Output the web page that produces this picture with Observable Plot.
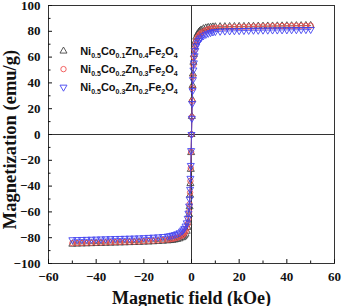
<!DOCTYPE html>
<html>
<head>
<meta charset="utf-8">
<script src="https://cdn.jsdelivr.net/npm/d3@7"></script>
<script src="https://cdn.jsdelivr.net/npm/@observablehq/plot@0.6"></script>
<style>
  html, body { margin: 0; padding: 0; background: #fff; }
  #chart { width: 342px; height: 306px; }
</style>
</head>
<body>
<div id="chart"></div>
<script>
// Magnetic field (kOe)
const field = [
  -50,-48,-46,-44,-42,-40,-38,-36,-34,-32,-30,-28,-26,-24,-22,-20,-18,-16,-14,-12,-10,
  -9,-8,-7,-6,-5,-4,
  -3.5,-3,-2.5,-2,
  -1.6,-1.3,-1.0,-0.8,-0.6,-0.45,-0.3,-0.15,
  0,
  0.15,0.3,0.45,0.6,0.8,1.0,1.3,1.6,
  2,2.5,3,3.5,
  4,5,6,7,8,9,
  10,12,14,16,18,20,22,24,26,28,30,32,34,36,38,40,42,44,46,48,50
];
// Magnetization (emu/g)
const mCo01 = [
  -85.0,-84.9,-84.8,-84.7,-84.6,-84.5,-84.4,-84.3,-84.2,-84.1,-84.0,-83.9,-83.8,-83.7,-83.6,-83.4,-83.3,-83.1,-82.9,-82.7,-82.4,
  -82.2,-82.0,-81.7,-81.3,-80.8,-80.0,
  -79.4,-78.5,-77.2,-75.0,
  -72.0,-68.0,-62.0,-56.0,-47.0,-38.0,-27.0,-14.0,
  0,
  14,27,38,47,56,62,68,72,
  75.5,77.8,79.2,80.2,
  81.0,82.0,82.6,83.0,83.2,83.4,
  83.5,83.6,83.6,83.7,83.7,83.8,83.8,83.9,83.9,84.0,84.0,84.1,84.1,84.2,84.2,84.3,84.3,84.4,84.4,84.5,84.5
];
const mCo02 = [
  -84.3,-84.2,-84.1,-84.0,-83.9,-83.8,-83.7,-83.6,-83.5,-83.4,-83.3,-83.2,-83.1,-83.0,-82.9,-82.7,-82.5,-82.3,-82.1,-81.8,-81.5,
  -81.2,-80.9,-80.5,-80.0,-79.3,-78.3,
  -77.6,-76.5,-75.0,-72.8,
  -69.5,-65.5,-60.0,-54.0,-45.0,-36.0,-26.0,-13.5,
  0,
  13.5,26,36,45,54,60,65.5,69.5,
  72.8,75.0,76.5,77.6,
  78.5,79.8,80.8,81.5,82.0,82.4,
  82.7,82.9,83.0,83.2,83.3,83.4,83.5,83.6,83.7,83.8,83.8,83.9,84.0,84.0,84.1,84.1,84.2,84.2,84.3,84.3,84.4
];
const mCo03 = [
  -81.6,-81.5,-81.4,-81.3,-81.2,-81.1,-81.0,-80.9,-80.8,-80.7,-80.6,-80.5,-80.4,-80.3,-80.2,-80.0,-79.8,-79.6,-79.4,-79.1,-78.8,
  -78.5,-78.1,-77.6,-77.0,-76.2,-75.0,
  -74.0,-72.8,-71.0,-68.5,
  -65.0,-61.0,-55.5,-50.0,-42.5,-34.0,-24.0,-12.5,
  0,
  12.5,24,34,42.5,50,55.5,61,65,
  68.5,71,72.8,74,
  75.0,76.5,77.6,78.4,79.0,79.5,
  79.8,80.0,80.2,80.3,80.4,80.5,80.6,80.7,80.8,80.8,80.9,80.9,81.0,81.0,81.1,81.1,81.2,81.2,81.3,81.3,81.4
];
const xTicks = [-60,-40,-20,0,20,40,60];
const xMinor = [-50,-30,-10,10,30,50];
const yTicks = [-100,-80,-60,-40,-20,0,20,40,60,80,100];
const yMinor = [-90,-70,-50,-30,-10,10,30,50,70,90];

const series = [
  {name: "Co0.1", m: mCo01, color: "#454545", symbol: "triangle", rotate: 0, r: 2.6,
   label: [["Ni",""],["0.5","s"],["Co",""],["0.1","s"],["Zn",""],["0.4","s"],["Fe",""],["2","s"],["O",""],["4","s"]]},
  {name: "Co0.2", m: mCo02, color: "#f05050", symbol: "circle", rotate: 0, r: 2.7,
   label: [["Ni",""],["0.5","s"],["Co",""],["0.2","s"],["Zn",""],["0.3","s"],["Fe",""],["2","s"],["O",""],["4","s"]]},
  {name: "Co0.3", m: mCo03, color: "#4444f0", symbol: "triangle", rotate: 180, r: 2.6,
   label: [["Ni",""],["0.5","s"],["Co",""],["0.3","s"],["Zn",""],["0.2","s"],["Fe",""],["2","s"],["O",""],["4","s"]]}
];

const marks = [
  Plot.ruleX([0], {stroke: "#333", strokeWidth: 1}),
  Plot.ruleY([0], {stroke: "#333", strokeWidth: 1})
];
for (const s of series) {
  const rows = field.map((h, i) => ({h, m: s.m[i]}));
  marks.push(Plot.line(rows, {x: "h", y: "m", stroke: s.color, strokeWidth: 0.8}));
  marks.push(Plot.dot(rows, {x: "h", y: "m", stroke: s.color, fill: "none", symbol: s.symbol,
    rotate: s.rotate, r: s.r, strokeWidth: 0.9}));
}
const blank = () => "";
marks.push(
  Plot.frame({stroke: "#333", strokeWidth: 1}),
  Plot.axisX({ticks: xTicks, tickSize: -4, tickPadding: 12, fontSize: 13, fontWeight: "bold",
    label: "Magnetic field (kOe)", labelAnchor: "center", labelArrow: "none", labelOffset: 40}),
  Plot.axisX({ticks: xMinor, tickSize: -2.5, tickFormat: blank, label: null}),
  Plot.axisY({ticks: yTicks, tickSize: -4, tickPadding: 12, fontSize: 13, fontWeight: "bold",
    label: "Magnetization (emu/g)", labelAnchor: "center", labelArrow: "none", labelOffset: 46}),
  Plot.axisY({ticks: yMinor, tickSize: -2.5, tickFormat: blank, label: null})
);

const plot = Plot.plot({
  width: 342, height: 306,
  marginLeft: 48, marginRight: 8, marginTop: 5, marginBottom: 43,
  x: {domain: [-60, 60]},
  y: {domain: [-100, 100]},
  style: {fontFamily: "'Liberation Serif', 'Times New Roman', serif", color: "#111", background: "#fff", overflow: "visible"},
  marks
});

// axis title sizes
d3.select(plot).selectAll("[aria-label='x-axis label'] text")
  .attr("font-size", 18).attr("font-weight", "bold");
d3.select(plot).selectAll("[aria-label='y-axis label'] text")
  .attr("font-size", 18.5).attr("font-weight", "bold").attr("dx", -5);

// legend
const xs = plot.scale("x"), ys = plot.scale("y");
const svg = d3.select(plot);
const lg = svg.append("g")
  .attr("font-family", "'Liberation Sans', Arial, sans-serif")
  .attr("font-weight", "bold")
  .attr("text-anchor", "start");
series.forEach((s, i) => {
  const yy = ys.apply(64.3 - i * 14);
  const sx = xs.apply(-53.5);
  const sym = s.symbol === "circle" ? d3.symbolCircle : d3.symbolTriangle;
  lg.append("path")
    .attr("d", d3.symbol(sym, s.r * s.r * Math.PI)())
    .attr("transform", `translate(${sx},${yy}) rotate(${s.rotate})`)
    .attr("fill", "none").attr("stroke", s.color).attr("stroke-width", 0.9);
  const t = lg.append("text").attr("x", xs.apply(-46.5)).attr("y", yy + 4)
    .attr("font-size", 11).attr("fill", "#111").attr("text-anchor", "start");
  let sub = false;
  for (const [txt, kind] of s.label) {
    const ts = t.append("tspan").text(txt);
    if (kind === "s" && !sub) { ts.attr("dy", 3).attr("font-size", 7); sub = true; }
    else if (kind === "s") { ts.attr("font-size", 7); }
    else if (sub) { ts.attr("dy", -3); sub = false; }
  }
});

document.getElementById("chart").appendChild(plot);
</script>
</body>
</html>
